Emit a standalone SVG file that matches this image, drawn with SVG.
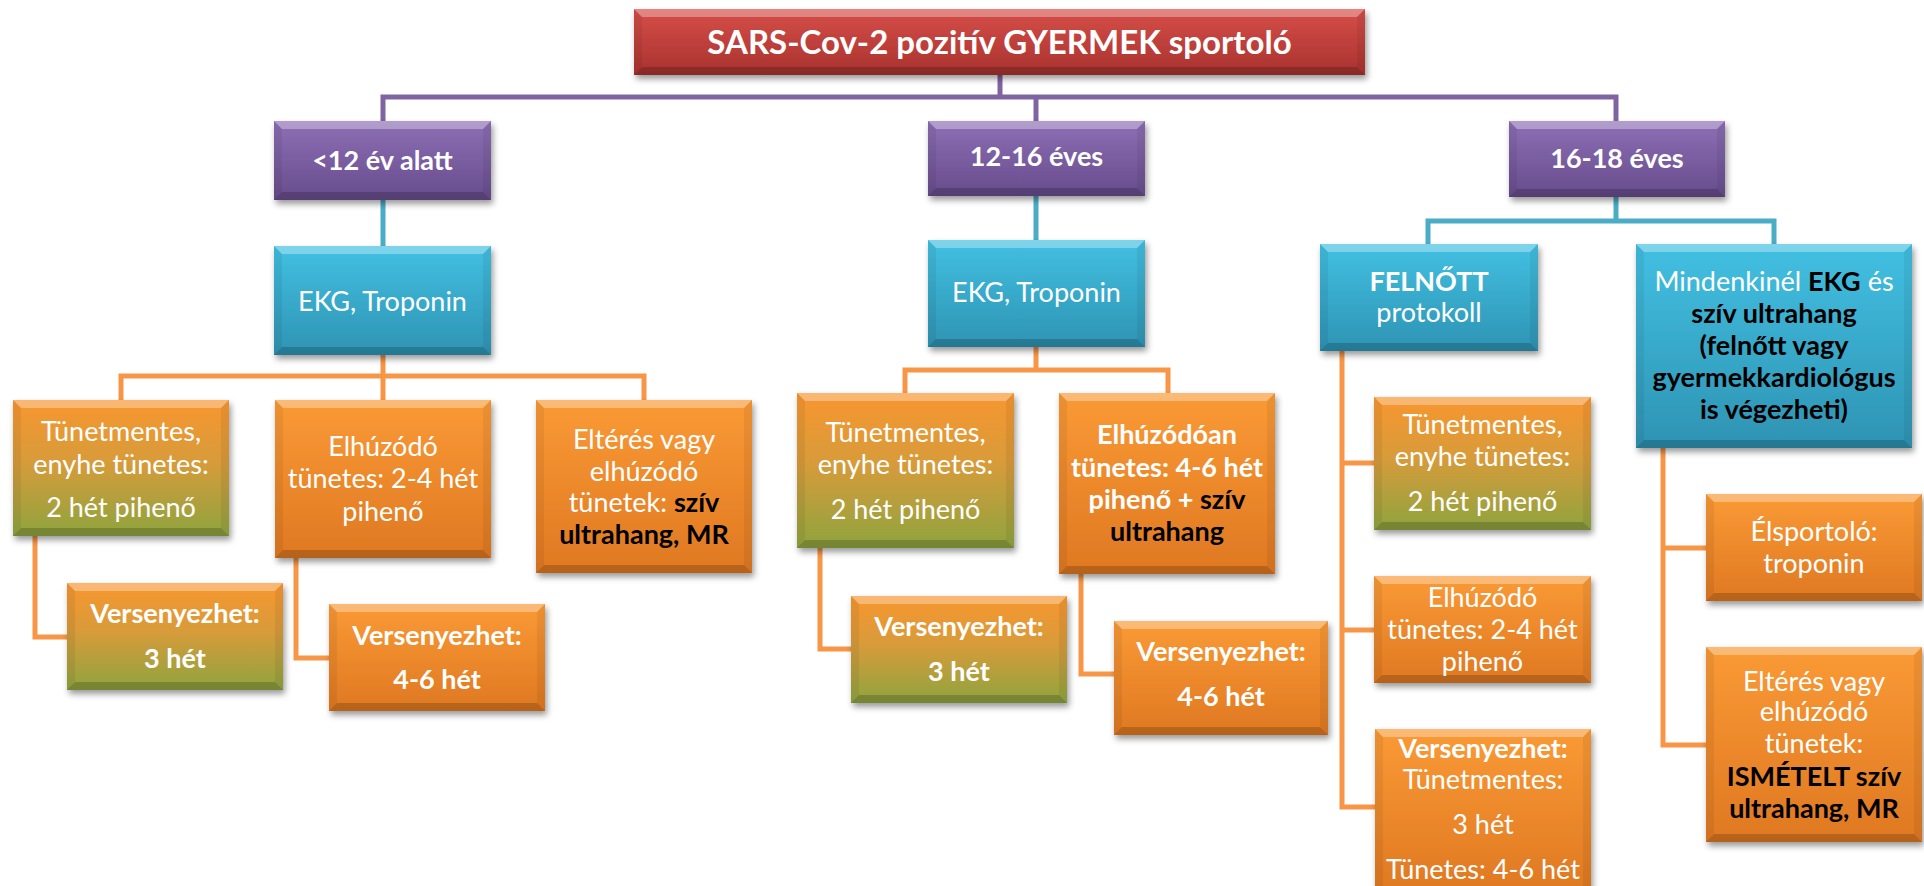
<svg xmlns="http://www.w3.org/2000/svg" width="1924" height="886" viewBox="0 0 1924 886">
<style>
text{font-family:Lato,"Liberation Sans",sans-serif;font-size:27px;fill:#fff;text-anchor:middle}
.b{font-weight:bold}
.k{fill:#000;font-weight:bold}
.tt{font-size:33px;font-weight:bold}
.cp{fill:none;stroke:#8064a2;stroke-width:5}
.ct{fill:none;stroke:#4bacc6;stroke-width:5}
.co{fill:none;stroke:#f79646;stroke-width:5}
.bt{fill:#fff;opacity:.32}
.bb{fill:#000;opacity:.18}
.bs{fill:#000;opacity:.06}
.red{fill:url(#gr)}
.pur{fill:url(#gp)}
.cy{fill:url(#gc)}
.or{fill:url(#go)}
.og{fill:url(#gg)}
</style>
<defs>
<linearGradient id="gr" x1="0" y1="0" x2="0" y2="1"><stop offset="0" stop-color="#d64e49"/><stop offset="1" stop-color="#a8322e"/></linearGradient>
<linearGradient id="gp" x1="0" y1="0" x2="0" y2="1"><stop offset="0" stop-color="#8d6fb5"/><stop offset="1" stop-color="#674c8c"/></linearGradient>
<linearGradient id="gc" x1="0" y1="0" x2="0" y2="1"><stop offset="0" stop-color="#42c0e2"/><stop offset="1" stop-color="#2e93b3"/></linearGradient>
<linearGradient id="go" x1="0" y1="0" x2="0" y2="1"><stop offset="0" stop-color="#fa9a35"/><stop offset="1" stop-color="#df7822"/></linearGradient>
<linearGradient id="gg" x1="0" y1="0" x2="0" y2="1"><stop offset="0" stop-color="#f8962f"/><stop offset="0.45" stop-color="#d89b3a"/><stop offset="1" stop-color="#8ea43f"/></linearGradient>
<filter id="sh" x="-10%" y="-10%" width="120%" height="130%"><feDropShadow dx="2" dy="4" stdDeviation="3" flood-color="#000" flood-opacity="0.4"/></filter>
</defs>

<g id="connectors">
<path class="cp" d="M1000 75V97M383 121V97H1616V121M1036 97V121"/>
<path class="ct" d="M383 200V246M1036 195V240M1616 197V221M1428 244V221H1774V244"/>
<path class="co" d="M383 355V400M121 400V376H644V400"/>
<path class="co" d="M35 536V637H67M296 558V658H329"/>
<path class="co" d="M1036 347V370M905 393V370H1168V393"/>
<path class="co" d="M820 548V649H851M1081 574V674H1114"/>
<path class="co" d="M1342 351V807H1375M1342 463H1374M1342 630H1374"/>
<path class="co" d="M1663 448V745H1706M1663 548H1706"/>
</g>

<g id="title" transform="translate(634,9)">
<rect class="red" width="731" height="66" filter="url(#sh)"/>
<polygon class="bt" points="0,0 731,0 723,8 8,8"/><polygon class="bb" points="0,66 731,66 723,58 8,58"/><polygon class="bs" points="0,0 8,8 8,58 0,66"/><polygon class="bs" points="731,0 723,8 723,58 731,66"/>
<text class="tt" x="365.5" y="45">SARS-Cov-2 pozitív GYERMEK sportoló</text>
</g>

<g id="age-under12" transform="translate(274,121)">
<rect class="pur" width="217" height="79" filter="url(#sh)"/>
<polygon class="bt" points="0,0 217,0 209,8 8,8"/><polygon class="bb" points="0,79 217,79 209,71 8,71"/><polygon class="bs" points="0,0 8,8 8,71 0,79"/><polygon class="bs" points="217,0 209,8 209,71 217,79"/>
<text class="b" x="108.5" y="49">&lt;12 év alatt</text>
</g>

<g id="age-12-16" transform="translate(928,121)">
<rect class="pur" width="217" height="75" filter="url(#sh)"/>
<polygon class="bt" points="0,0 217,0 209,8 8,8"/><polygon class="bb" points="0,75 217,75 209,67 8,67"/><polygon class="bs" points="0,0 8,8 8,67 0,75"/><polygon class="bs" points="217,0 209,8 209,67 217,75"/>
<text class="b" x="108.5" y="45">12-16 éves</text>
</g>

<g id="age-16-18" transform="translate(1509,121)">
<rect class="pur" width="216" height="76" filter="url(#sh)"/>
<polygon class="bt" points="0,0 216,0 208,8 8,8"/><polygon class="bb" points="0,76 216,76 208,68 8,68"/><polygon class="bs" points="0,0 8,8 8,68 0,76"/><polygon class="bs" points="216,0 208,8 208,68 216,76"/>
<text class="b" x="108" y="47">16-18 éves</text>
</g>

<g id="ekg1" transform="translate(274,246)">
<rect class="cy" width="217" height="109" filter="url(#sh)"/>
<polygon class="bt" points="0,0 217,0 209,8 8,8"/><polygon class="bb" points="0,109 217,109 209,101 8,101"/><polygon class="bs" points="0,0 8,8 8,101 0,109"/><polygon class="bs" points="217,0 209,8 209,101 217,109"/>
<text x="108.5" y="65">EKG, Troponin</text>
</g>

<g id="ekg2" transform="translate(928,240)">
<rect class="cy" width="217" height="107" filter="url(#sh)"/>
<polygon class="bt" points="0,0 217,0 209,8 8,8"/><polygon class="bb" points="0,107 217,107 209,99 8,99"/><polygon class="bs" points="0,0 8,8 8,99 0,107"/><polygon class="bs" points="217,0 209,8 209,99 217,107"/>
<text x="108.5" y="62">EKG, Troponin</text>
</g>

<g id="felnott" transform="translate(1320,244)">
<rect class="cy" width="218" height="107" filter="url(#sh)"/>
<polygon class="bt" points="0,0 218,0 210,8 8,8"/><polygon class="bb" points="0,107 218,107 210,99 8,99"/><polygon class="bs" points="0,0 8,8 8,99 0,107"/><polygon class="bs" points="218,0 210,8 210,99 218,107"/>
<text class="b" x="109" y="47">FELNŐTT</text>
<text x="109" y="78">protokoll</text>
</g>

<g id="mindenkinel" transform="translate(1636,244)">
<rect class="cy" width="276" height="204" filter="url(#sh)"/>
<polygon class="bt" points="0,0 276,0 268,8 8,8"/><polygon class="bb" points="0,204 276,204 268,196 8,196"/><polygon class="bs" points="0,0 8,8 8,196 0,204"/><polygon class="bs" points="276,0 268,8 268,196 276,204"/>
<text x="138" y="47">Mindenkinél <tspan class="k">EKG</tspan> és</text>
<text class="k" x="138" y="79">szív ultrahang</text>
<text class="k" x="138" y="111">(felnőtt vagy</text>
<text class="k" x="138" y="143">gyermekkardiológus</text>
<text class="k" x="138" y="175">is végezheti)</text>
</g>

<g id="l-tunetmentes" transform="translate(13,400)">
<rect class="og" width="216" height="136" filter="url(#sh)"/>
<polygon class="bt" points="0,0 216,0 208,8 8,8"/><polygon class="bb" points="0,136 216,136 208,128 8,128"/><polygon class="bs" points="0,0 8,8 8,128 0,136"/><polygon class="bs" points="216,0 208,8 208,128 216,136"/>
<text x="108" y="41">Tünetmentes,</text>
<text x="108" y="74">enyhe tünetes:</text>
<text x="108" y="117">2 hét pihenő</text>
</g>

<g id="l-elhuzodo" transform="translate(275,400)">
<rect class="or" width="216" height="158" filter="url(#sh)"/>
<polygon class="bt" points="0,0 216,0 208,8 8,8"/><polygon class="bb" points="0,158 216,158 208,150 8,150"/><polygon class="bs" points="0,0 8,8 8,150 0,158"/><polygon class="bs" points="216,0 208,8 208,150 216,158"/>
<text x="108" y="56">Elhúzódó</text>
<text x="108" y="88">tünetes: 2-4 hét</text>
<text x="108" y="121">pihenő</text>
</g>

<g id="l-elteres" transform="translate(536,400)">
<rect class="or" width="216" height="173" filter="url(#sh)"/>
<polygon class="bt" points="0,0 216,0 208,8 8,8"/><polygon class="bb" points="0,173 216,173 208,165 8,165"/><polygon class="bs" points="0,0 8,8 8,165 0,173"/><polygon class="bs" points="216,0 208,8 208,165 216,173"/>
<text x="108" y="49">Eltérés vagy</text>
<text x="108" y="81">elhúzódó</text>
<text x="108" y="112">tünetek: <tspan class="k">szív</tspan></text>
<text class="k" x="108" y="144">ultrahang, MR</text>
</g>

<g id="l-verseny3" transform="translate(67,583)">
<rect class="og" width="216" height="107" filter="url(#sh)"/>
<polygon class="bt" points="0,0 216,0 208,8 8,8"/><polygon class="bb" points="0,107 216,107 208,99 8,99"/><polygon class="bs" points="0,0 8,8 8,99 0,107"/><polygon class="bs" points="216,0 208,8 208,99 216,107"/>
<text class="b" x="108" y="40">Versenyezhet:</text>
<text class="b" x="108" y="85">3 hét</text>
</g>

<g id="l-verseny46" transform="translate(329,604)">
<rect class="or" width="216" height="107" filter="url(#sh)"/>
<polygon class="bt" points="0,0 216,0 208,8 8,8"/><polygon class="bb" points="0,107 216,107 208,99 8,99"/><polygon class="bs" points="0,0 8,8 8,99 0,107"/><polygon class="bs" points="216,0 208,8 208,99 216,107"/>
<text class="b" x="108" y="41">Versenyezhet:</text>
<text class="b" x="108" y="85">4-6 hét</text>
</g>

<g id="m-tunetmentes" transform="translate(797,393)">
<rect class="og" width="217" height="155" filter="url(#sh)"/>
<polygon class="bt" points="0,0 217,0 209,8 8,8"/><polygon class="bb" points="0,155 217,155 209,147 8,147"/><polygon class="bs" points="0,0 8,8 8,147 0,155"/><polygon class="bs" points="217,0 209,8 209,147 217,155"/>
<text x="108.5" y="49">Tünetmentes,</text>
<text x="108.5" y="81">enyhe tünetes:</text>
<text x="108.5" y="126">2 hét pihenő</text>
</g>

<g id="m-elhuzodoan" transform="translate(1059,393)">
<rect class="or" width="216" height="181" filter="url(#sh)"/>
<polygon class="bt" points="0,0 216,0 208,8 8,8"/><polygon class="bb" points="0,181 216,181 208,173 8,173"/><polygon class="bs" points="0,0 8,8 8,173 0,181"/><polygon class="bs" points="216,0 208,8 208,173 216,181"/>
<text class="b" x="108" y="51">Elhúzódóan</text>
<text class="b" x="108" y="84">tünetes: 4-6 hét</text>
<text class="b" x="108" y="116">pihenő + <tspan class="k">szív</tspan></text>
<text class="k" x="108" y="148">ultrahang</text>
</g>

<g id="m-verseny3" transform="translate(851,596)">
<rect class="og" width="216" height="107" filter="url(#sh)"/>
<polygon class="bt" points="0,0 216,0 208,8 8,8"/><polygon class="bb" points="0,107 216,107 208,99 8,99"/><polygon class="bs" points="0,0 8,8 8,99 0,107"/><polygon class="bs" points="216,0 208,8 208,99 216,107"/>
<text class="b" x="108" y="40">Versenyezhet:</text>
<text class="b" x="108" y="85">3 hét</text>
</g>

<g id="m-verseny46" transform="translate(1114,621)">
<rect class="or" width="214" height="114" filter="url(#sh)"/>
<polygon class="bt" points="0,0 214,0 206,8 8,8"/><polygon class="bb" points="0,114 214,114 206,106 8,106"/><polygon class="bs" points="0,0 8,8 8,106 0,114"/><polygon class="bs" points="214,0 206,8 206,106 214,114"/>
<text class="b" x="107" y="40">Versenyezhet:</text>
<text class="b" x="107" y="85">4-6 hét</text>
</g>

<g id="r-tunetmentes" transform="translate(1374,397)">
<rect class="og" width="217" height="133" filter="url(#sh)"/>
<polygon class="bt" points="0,0 217,0 209,8 8,8"/><polygon class="bb" points="0,133 217,133 209,125 8,125"/><polygon class="bs" points="0,0 8,8 8,125 0,133"/><polygon class="bs" points="217,0 209,8 209,125 217,133"/>
<text x="108.5" y="37">Tünetmentes,</text>
<text x="108.5" y="69">enyhe tünetes:</text>
<text x="108.5" y="114">2 hét pihenő</text>
</g>

<g id="r-elhuzodo" transform="translate(1374,576)">
<rect class="or" width="217" height="107" filter="url(#sh)"/>
<polygon class="bt" points="0,0 217,0 209,8 8,8"/><polygon class="bb" points="0,107 217,107 209,99 8,99"/><polygon class="bs" points="0,0 8,8 8,99 0,107"/><polygon class="bs" points="217,0 209,8 209,99 217,107"/>
<text x="108.5" y="31">Elhúzódó</text>
<text x="108.5" y="63">tünetes: 2-4 hét</text>
<text x="108.5" y="95">pihenő</text>
</g>

<g id="r-verseny" transform="translate(1375,729)">
<rect class="or" width="216" height="165" filter="url(#sh)"/>
<polygon class="bt" points="0,0 216,0 208,8 8,8"/><polygon class="bs" points="0,0 8,8 8,165 0,165"/><polygon class="bs" points="216,0 208,8 208,165 216,165"/>
<text class="b" x="108" y="29">Versenyezhet:</text>
<text x="108" y="60">Tünetmentes:</text>
<text x="108" y="105">3 hét</text>
<text x="108" y="150">Tünetes: 4-6 hét</text>
</g>

<g id="r-elsportolo" transform="translate(1706,494)">
<rect class="or" width="216" height="107" filter="url(#sh)"/>
<polygon class="bt" points="0,0 216,0 208,8 8,8"/><polygon class="bb" points="0,107 216,107 208,99 8,99"/><polygon class="bs" points="0,0 8,8 8,99 0,107"/><polygon class="bs" points="216,0 208,8 208,99 216,107"/>
<text x="108" y="47">Élsportoló:</text>
<text x="108" y="79">troponin</text>
</g>

<g id="r-elteres" transform="translate(1706,647)">
<rect class="or" width="216" height="195" filter="url(#sh)"/>
<polygon class="bt" points="0,0 216,0 208,8 8,8"/><polygon class="bb" points="0,195 216,195 208,187 8,187"/><polygon class="bs" points="0,0 8,8 8,187 0,195"/><polygon class="bs" points="216,0 208,8 208,187 216,195"/>
<text x="108" y="44">Eltérés vagy</text>
<text x="108" y="74">elhúzódó</text>
<text x="108" y="106">tünetek:</text>
<text class="k" x="108" y="139">ISMÉTELT szív</text>
<text class="k" x="108" y="171">ultrahang, MR</text>
</g>
</svg>
